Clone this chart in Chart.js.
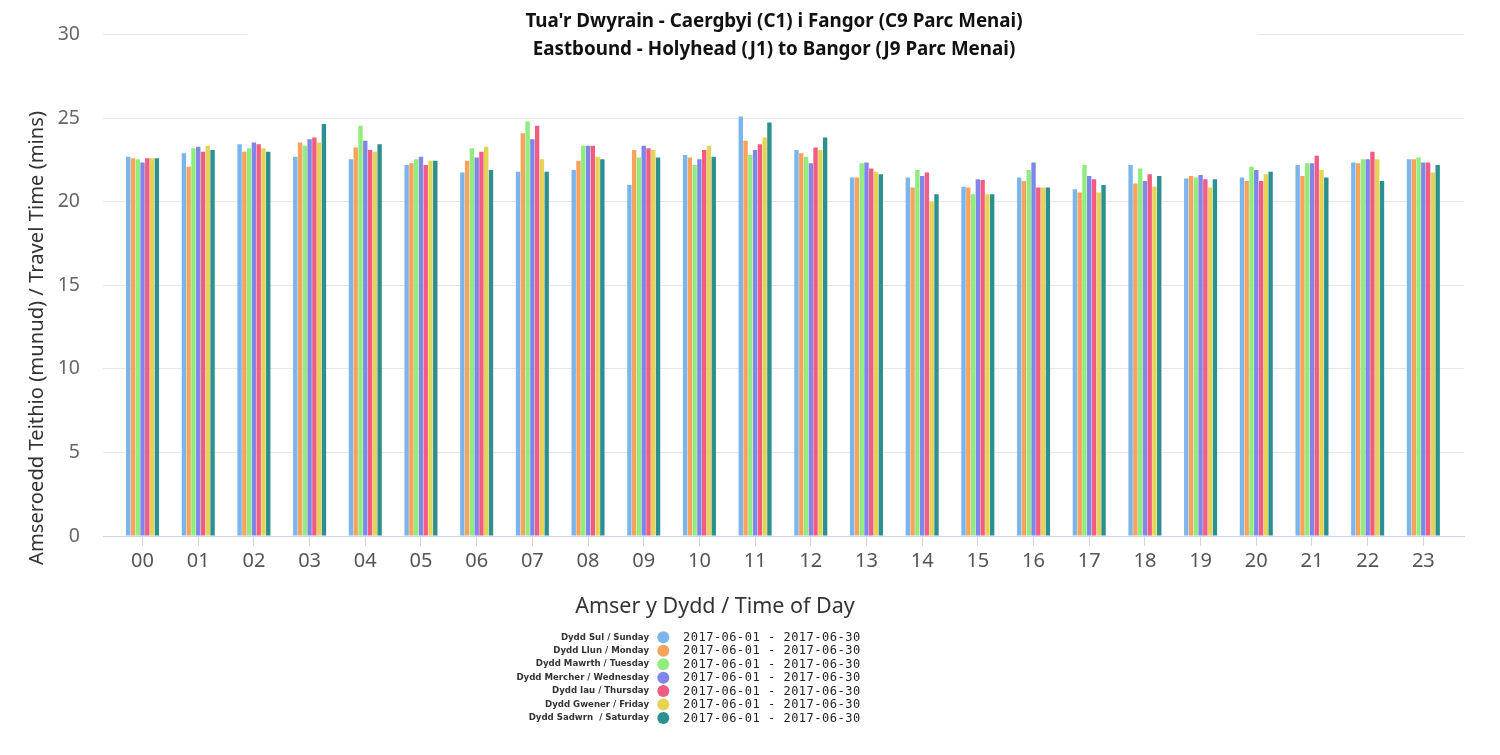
<!DOCTYPE html>
<html>
<head>
<meta charset="utf-8">
<script src="https://cdn.jsdelivr.net/npm/chart.js@4/dist/chart.umd.min.js"></script>
<style>
  html, body { margin: 0; padding: 0; background: #fff; }
  #wrap { width: 1500px; height: 755px; }
</style>
</head>
<body>
<div id="wrap"><canvas id="travelChart"></canvas></div>
<script>
// Hours of the day (x axis)
const hours = ['00', '01', '02', '03', '04', '05', '06', '07', '08', '09', '10', '11',
  '12', '13', '14', '15', '16', '17', '18', '19', '20', '21', '22', '23'];

// Average travel time in minutes, one value per hour
const sunday    = [22.7, 22.9, 23.45, 22.7, 22.55, 22.2, 21.75, 21.8, 21.9, 21.0, 22.8, 25.1, 23.1, 21.45, 21.45, 20.9, 21.45, 20.75, 22.2, 21.4, 21.45, 22.2, 22.35, 22.55];
const monday    = [22.6, 22.1, 23.0, 23.55, 23.25, 22.3, 22.45, 24.1, 22.45, 23.1, 22.65, 23.65, 22.9, 21.45, 20.85, 20.85, 21.25, 20.55, 21.1, 21.55, 21.25, 21.55, 22.3, 22.55];
const tuesday   = [22.55, 23.2, 23.2, 23.35, 24.55, 22.55, 23.2, 24.8, 23.35, 22.65, 22.2, 22.8, 22.7, 22.3, 21.9, 20.45, 21.9, 22.2, 22.0, 21.45, 22.1, 22.3, 22.55, 22.65];
const wednesday = [22.35, 23.3, 23.55, 23.75, 23.65, 22.7, 22.65, 23.75, 23.35, 23.35, 22.55, 23.1, 22.3, 22.35, 21.55, 21.35, 22.35, 21.55, 21.25, 21.6, 21.9, 22.3, 22.55, 22.35];
const thursday  = [22.6, 23.0, 23.45, 23.85, 23.1, 22.2, 23.0, 24.55, 23.35, 23.2, 23.1, 23.45, 23.25, 22.0, 21.75, 21.3, 20.85, 21.35, 21.65, 21.35, 21.25, 22.75, 23.0, 22.35];
const friday    = [22.6, 23.35, 23.2, 23.55, 23.0, 22.45, 23.3, 22.55, 22.7, 23.1, 23.35, 23.85, 23.1, 21.8, 20.0, 20.45, 20.85, 20.55, 20.9, 20.85, 21.65, 21.9, 22.55, 21.75];
const saturday  = [22.6, 23.1, 23.0, 24.65, 23.45, 22.45, 21.9, 21.8, 22.55, 22.65, 22.7, 24.75, 23.85, 21.65, 20.45, 20.45, 20.85, 21.0, 21.55, 21.35, 21.8, 21.45, 21.25, 22.2];

const dayLabels = ['Dydd Sul / Sunday', 'Dydd Llun / Monday', 'Dydd Mawrth / Tuesday',
  'Dydd Mercher / Wednesday', 'Dydd Iau / Thursday', 'Dydd Gwener / Friday', 'Dydd Sadwrn  / Saturday'];
const dateRange = '2017-06-01 - 2017-06-30';
const yTicks = [0, 5, 10, 15, 20, 25, 30];

const titleLines = ["Tua'r Dwyrain - Caergbyi (C1) i Fangor (C9 Parc Menai)",
  'Eastbound - Holyhead (J1) to Bangor (J9 Parc Menai)'];
const xTitle = 'Amser y Dydd / Time of Day';
const yTitle = 'Amseroedd Teithio (munud) / Travel Time (mins)';

const colours = ['#7cb5ec', '#f7a35c', '#90ed7d', '#8085e9', '#f15c80', '#e4d354', '#2b908f'];
const series = [sunday, monday, tuesday, wednesday, thursday, friday, saturday];

// Titles, axis titles and the two-column legend are drawn here
const textsPlugin = {
  id: 'textsPlugin',
  afterDraw(chart) {
    const ctx = chart.ctx;
    ctx.save();

    // title box hides the top grid line like the original
    ctx.fillStyle = '#fff';
    ctx.fillRect(247, 4, 1011, 58);
    ctx.fillStyle = '#111';
    ctx.font = 'bold 18.8px "Noto Sans"';
    ctx.textAlign = 'center';
    ctx.textBaseline = 'middle';
    titleLines.forEach((t, i) => ctx.fillText(t, 774, 22 + i * 28));

    // x axis title
    ctx.fillStyle = '#333';
    ctx.font = '21.5px "Noto Sans"';
    ctx.fillText(xTitle, 715, 607);

    // y axis title
    ctx.save();
    ctx.translate(37, 338);
    ctx.rotate(-Math.PI / 2);
    ctx.font = '20.2px "Noto Sans"';
    ctx.fillText(yTitle, 0, 0);
    ctx.restore();

    // legend
    chart.data.datasets.forEach((ds, i) => {
      const y = 637.3 + i * 13.45;
      ctx.textAlign = 'right';
      ctx.fillStyle = '#333';
      ctx.font = 'bold 8.6px "DejaVu Sans"';
      ctx.fillText(ds.label, 649, y);
      ctx.beginPath();
      ctx.arc(663.3, y, 6, 0, Math.PI * 2);
      ctx.fillStyle = ds.backgroundColor;
      ctx.fill();
      ctx.textAlign = 'left';
      ctx.fillStyle = '#222';
      ctx.font = '12px "DejaVu Sans Mono"';
      ctx.letterSpacing = '0.5px';
      ctx.fillText(dateRange, 683, y + 0.5);
      ctx.letterSpacing = '0px';
    });

    ctx.restore();
  }
};

const ctxTravel = document.getElementById('travelChart').getContext('2d');
new Chart(ctxTravel, {
  type: 'bar',
  data: {
    datasets: series.map((values, i) => ({
      label: dayLabels[i],
      data: values.map((v, h) => ({ x: h, y: v })),
      backgroundColor: colours[i],
      borderWidth: 0,
      categoryPercentage: 0.6,
      barPercentage: 0.92
    }))
  },
  options: {
    responsive: true,
    maintainAspectRatio: false,
    animation: false,
    layout: {
      padding: { top: 32, right: 36, bottom: 179, left: 0 }
    },
    plugins: {
      legend: { display: false },
      title: { display: false },
      tooltip: { enabled: false }
    },
    scales: {
      x: {
        type: 'linear',
        offset: false,
        min: -0.71,
        max: 23.73,
        afterBuildTicks: (axis) => {
          axis.ticks = hours.map((h, i) => ({ value: i }));
        },
        afterFit: (axis) => {
          axis.height = 40;
        },
        grid: {
          offset: false,
          drawOnChartArea: false,
          color: '#ccd6eb',
          tickLength: 10
        },
        border: { color: '#ccd6eb' },
        ticks: {
          callback: (value) => hours[value],
          autoSkip: false,
          maxRotation: 0,
          color: '#555',
          padding: 3,
          font: { family: 'Noto Sans', size: 20 }
        }
      },
      y: {
        min: 0,
        max: 30,
        afterBuildTicks: (axis) => {
          axis.ticks = yTicks.map((v) => ({ value: v }));
        },
        afterFit: (axis) => {
          axis.width = 103;
        },
        grid: {
          color: '#e6e6e6',
          drawTicks: false
        },
        border: { display: false },
        ticks: {
          color: '#666',
          padding: 23,
          font: { family: 'Noto Sans', size: 19.5 }
        }
      }
    }
  },
  plugins: [textsPlugin]
});
</script>
</body>
</html>
